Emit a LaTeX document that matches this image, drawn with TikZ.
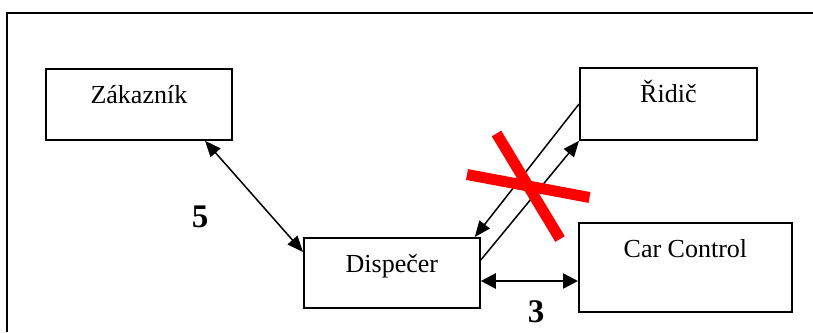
\documentclass[tikz,border=0pt]{standalone}
\usepackage{fontspec}
\setmainfont{Liberation Serif}
\usetikzlibrary{arrows.meta,calc}
\tikzset{
  boxnode/.style={draw, line width=1.8pt, inner sep=0pt, anchor=north west,
    font=\fontsize{26}{30}\selectfont, text height=35pt},
  numlabel/.style={inner sep=0pt, font=\fontsize{33}{36}\selectfont\bfseries},
  thinarrow/.style={line width=1.5pt, -{Triangle[length=16pt,width=13pt]}},
  thickdouble/.style={line width=2.4pt, {Triangle[length=15pt,width=15pt]}-{Triangle[length=15pt,width=15pt]}},
  crossstroke/.style={draw=red, line width=11pt},
}
\begin{document}
\begin{tikzpicture}[x=1pt,y=-1pt]
\useasboundingbox (0,0) rectangle (813,332);
\fill[white] (0,0) rectangle (813,332);
% outer frame
\draw[line width=2pt] (7,332) -- (7,13) -- (813,13);
% boxes
\node[boxnode, minimum width=186pt, text depth=36pt] (zak) at (45,68) {Zákazník};
\node[boxnode, minimum width=177pt, text depth=37pt] (rid) at (579,67) {Řidič};
\node[boxnode, minimum width=176pt, text depth=35pt] (disp) at (303,237) {Dispečer};
\node[boxnode, minimum width=213pt, text depth=54pt] (car) at (578,222) {Car Control};
% connectors
\draw[thinarrow, {Triangle[length=16pt,width=13pt]}-{Triangle[length=16pt,width=13pt]}]
  ($(zak.south west)+(160,0)$) -- ($(disp.north west)+(0,15)$);
\draw[thinarrow] ($(rid.north west)+(0,37)$) -- ($(disp.north east)+(-6,0)$);
\draw[thinarrow] ($(disp.north east)+(0,23)$) -- (rid.south west);
\draw[thickdouble] ($(disp.north east)+(0,44)$) -- ($(car.north west)+(0,59)$);
% labels
\node[numlabel] (lab5) at (200,217) {5};
\node[numlabel] (lab3) at (536,312) {3};
% red cross
\coordinate (xa1) at (496.5,133.5);
\coordinate (xa2) at (560,239);
\coordinate (xb1) at (467,174.5);
\coordinate (xb2) at (589.5,197.5);
\draw[crossstroke] (xa1) -- (xa2);
\draw[crossstroke] (xb1) -- (xb2);
\end{tikzpicture}
\end{document}
